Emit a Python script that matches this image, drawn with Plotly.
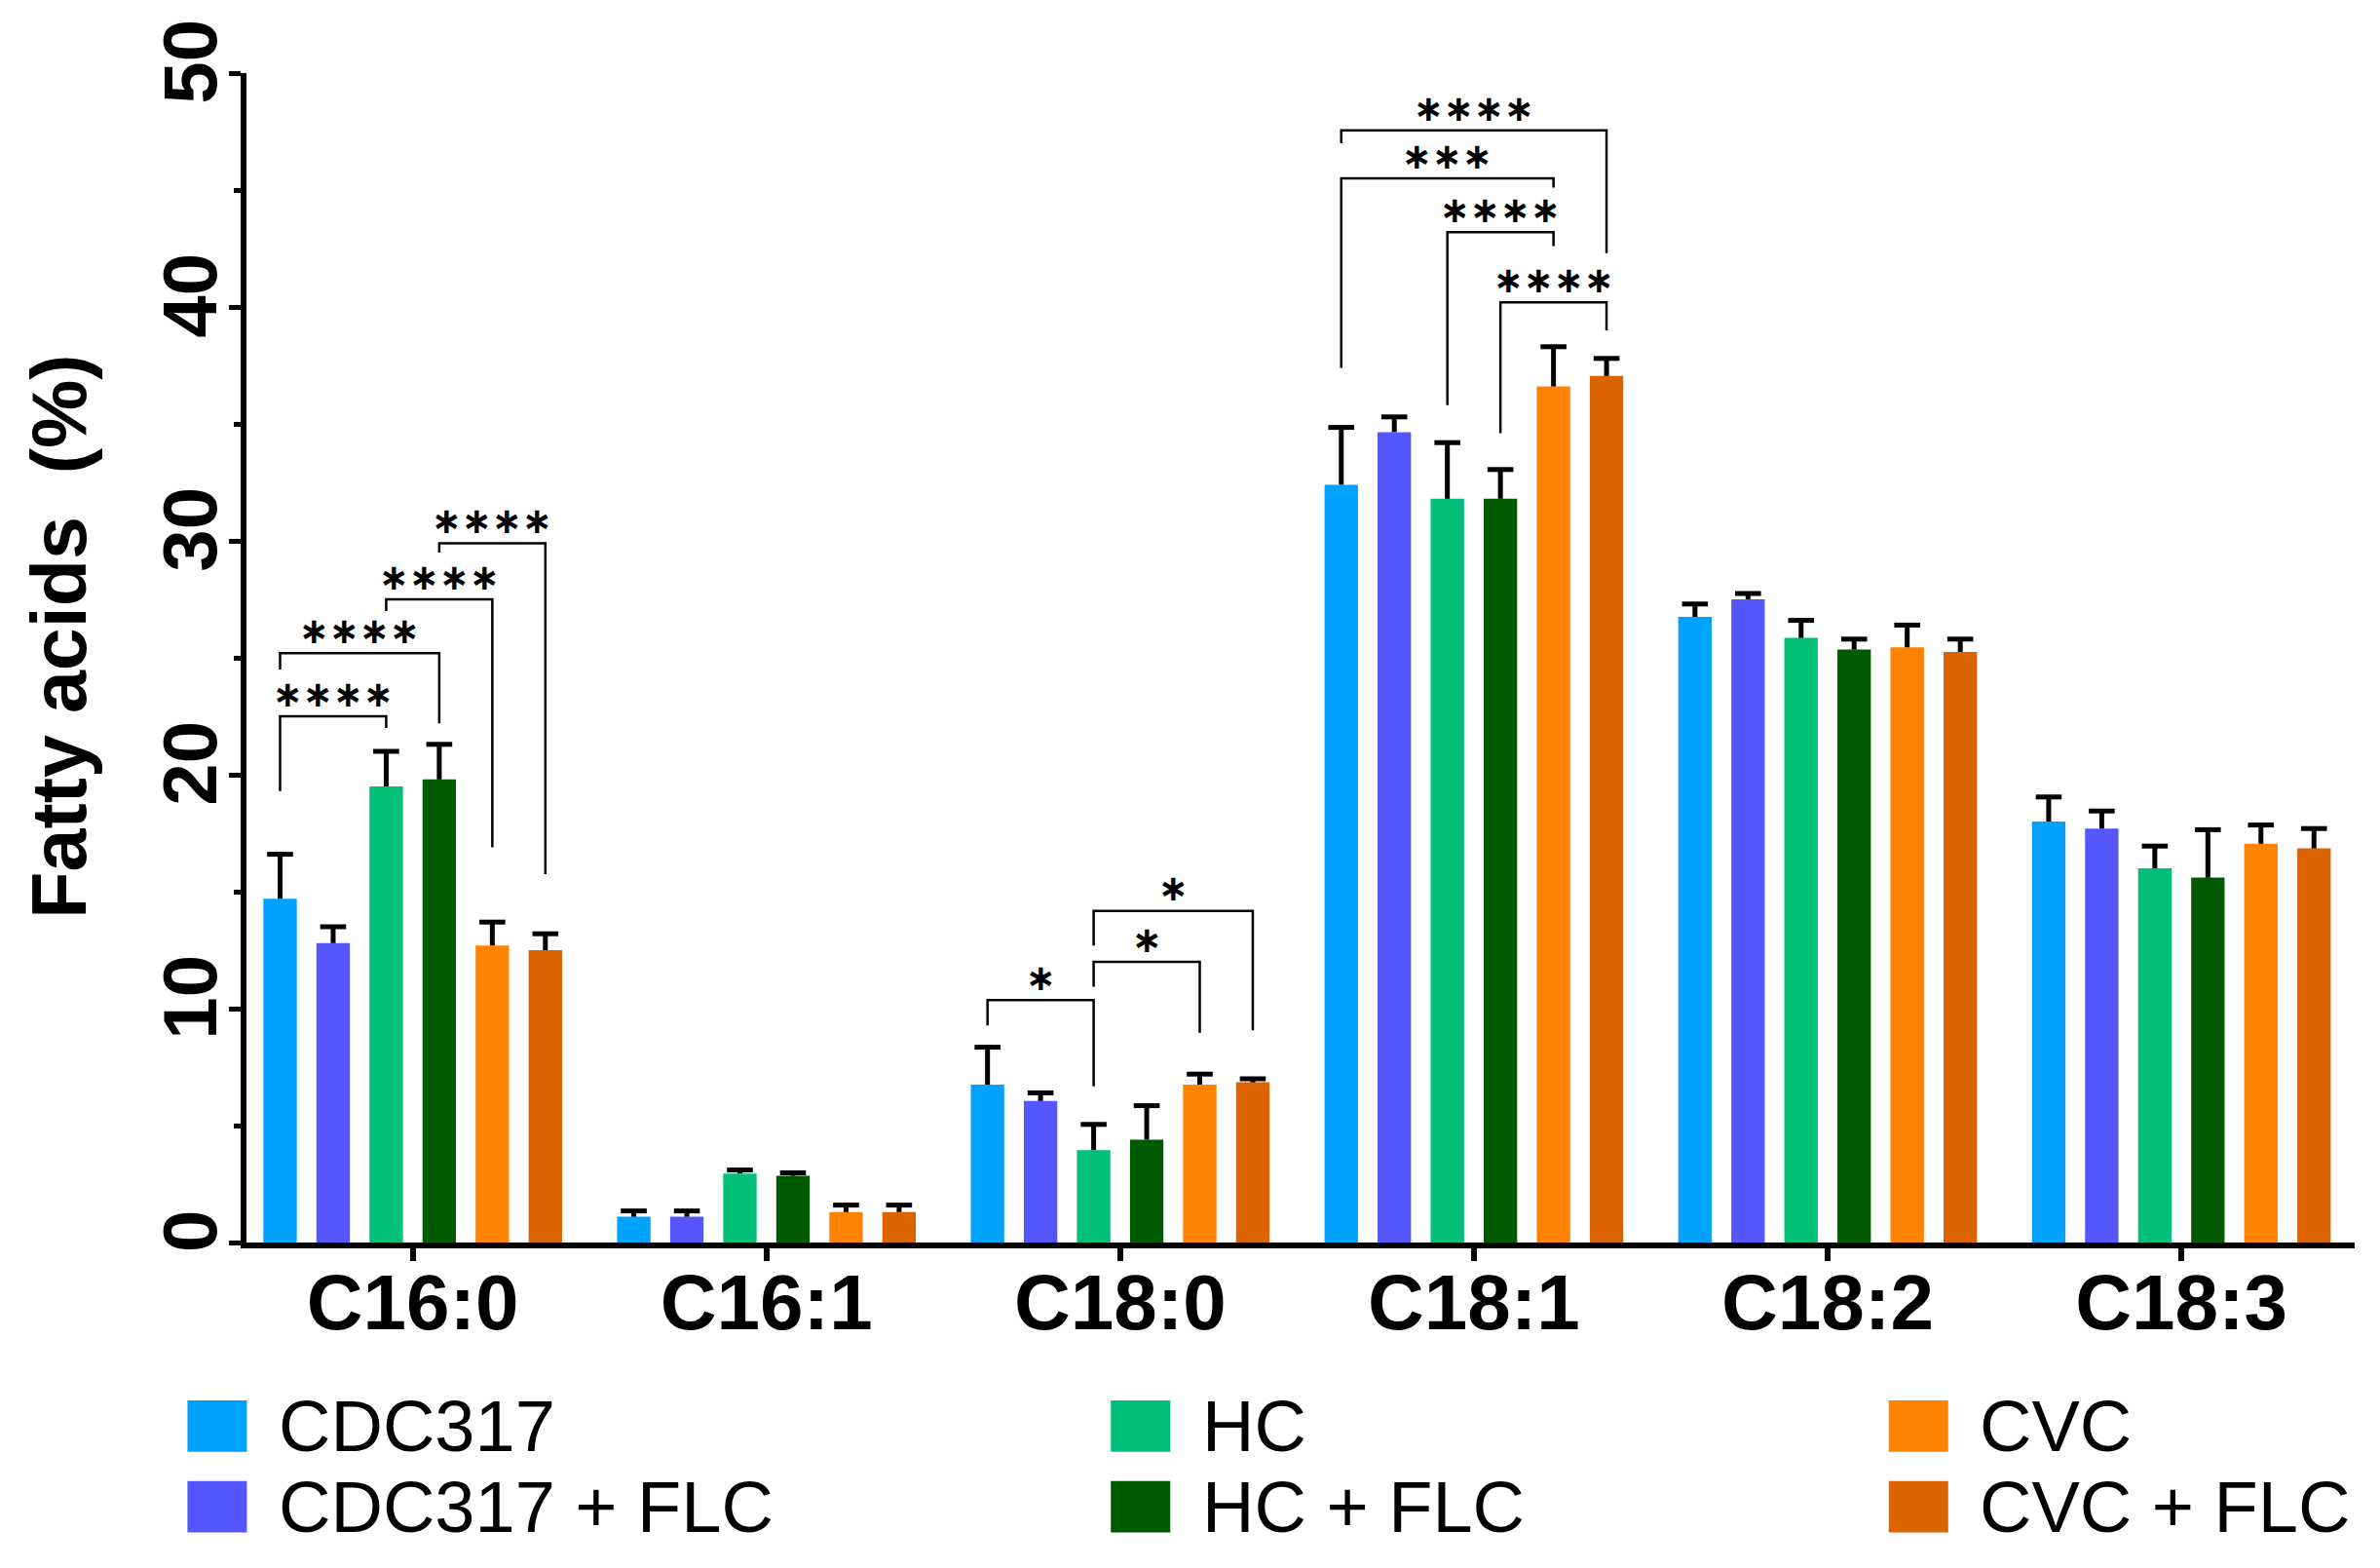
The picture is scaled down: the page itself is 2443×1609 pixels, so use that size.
import plotly.graph_objects as go

# fatty acid categories on the x axis
categories = ["C16:0", "C16:1", "C18:0", "C18:1", "C18:2", "C18:3"]

# series names and colours
series_names = ["CDC317", "CDC317 + FLC", "HC", "HC + FLC", "CVC", "CVC + FLC"]
series_colors = ["#00A2FF", "#5656FF", "#00BF78", "#005A00", "#FF8200", "#DC6400"]

# mean values (%) per series, one value per category
cdc317 = [14.7, 1.1, 6.75, 32.4, 26.75, 18.0]
cdc317_flc = [12.8, 1.1, 6.05, 34.65, 27.5, 17.7]
hc = [19.5, 2.95, 3.95, 31.8, 25.85, 16.0]
hc_flc = [19.8, 2.85, 4.4, 31.8, 25.35, 15.6]
cvc = [12.7, 1.3, 6.75, 36.6, 25.45, 17.05]
cvc_flc = [12.5, 1.3, 6.85, 37.05, 25.25, 16.85]

# upper error (SD) per series
cdc317_err = [1.9, 0.25, 1.6, 2.45, 0.55, 1.05]
cdc317_flc_err = [0.7, 0.25, 0.35, 0.65, 0.25, 0.75]
hc_err = [1.5, 0.15, 1.1, 2.4, 0.75, 0.95]
hc_flc_err = [1.5, 0.13, 1.45, 1.25, 0.45, 2.05]
cvc_err = [1.0, 0.3, 0.45, 1.7, 0.95, 0.8]
cvc_flc_err = [0.7, 0.3, 0.15, 0.75, 0.55, 0.85]

values = [cdc317, cdc317_flc, hc, hc_flc, cvc, cvc_flc]
errors = [cdc317_err, cdc317_flc_err, hc_err, hc_flc_err, cvc_err, cvc_flc_err]

# significance brackets: (category, bar a, bar b, bracket height, end of left leg, end of right leg, label)
brackets = [
    (0, 0, 2, 22.5, 19.3, 22.0, "****"),
    (0, 0, 3, 25.2, 24.5, 22.2, "****"),
    (0, 2, 4, 27.5, 27.0, 16.9, "****"),
    (0, 3, 5, 29.9, 29.5, 15.75, "****"),
    (2, 0, 2, 10.36, 9.28, 6.68, "*"),
    (2, 2, 4, 12.0, 10.94, 8.97, "*"),
    (2, 2, 5, 14.18, 12.7, 9.07, "*"),
    (3, 0, 5, 47.55, 47.0, 42.3, "****"),
    (3, 0, 4, 45.5, 37.4, 45.1, "***"),
    (3, 2, 4, 43.2, 35.8, 42.6, "****"),
    (3, 3, 5, 40.2, 34.6, 39.0, "****"),
]

FONT = "Liberation Sans, Arial, sans-serif"
STAR_FONT = "DejaVu Sans, sans-serif"
BARGAP = 0.1
BARGROUPGAP = 0.37
n_series = len(series_names)
slot = (1 - BARGAP) / n_series


def bar_x(cat, k):
    # centre of bar k inside group cat (same maths plotly uses for grouped bars)
    return cat - (1 - BARGAP) / 2 + (k + 0.5) * slot


fig = go.Figure()
x_pos = list(range(len(categories)))

for name, color, vals in zip(series_names, series_colors, values):
    fig.add_trace(go.Bar(
        x=x_pos, y=vals, name=name,
        marker=dict(color=color, line=dict(width=0)),
        showlegend=False,
    ))

# one-sided error bars (stem + top cap only, like the original)
for k, (vals, errs) in enumerate(zip(values, errors)):
    sx, sy = [], []
    cx, cy = [], []
    for cat, (v, e) in enumerate(zip(vals, errs)):
        xc = bar_x(cat, k)
        sx += [xc, xc, None]
        sy += [v, v + e, None]
        cx.append(xc)
        cy.append(v + e)
    fig.add_trace(go.Scatter(x=sx, y=sy, mode="lines",
                             line=dict(color="black", width=5),
                             hoverinfo="skip", showlegend=False))
    fig.add_trace(go.Scatter(x=cx, y=cy, mode="markers",
                             marker=dict(symbol="line-ew", size=19,
                                         line=dict(color="black", width=5)),
                             hoverinfo="skip", showlegend=False))

# significance brackets
for cat, a, b, h, left_end, right_end, label in brackets:
    xa = bar_x(cat, a)
    xb = bar_x(cat, b)
    fig.add_trace(go.Scatter(
        x=[xa, xa, xb, xb], y=[left_end, h, h, right_end],
        mode="lines", line=dict(color="black", width=2.5),
        hoverinfo="skip", showlegend=False,
    ))
    # asterisk operator glyph sits centred in its line box, so a compact font size works
    fig.add_annotation(
        x=(xa + xb) / 2, y=h + 0.95, text=label.replace("*", "\u2217"),
        showarrow=False, yanchor="middle", borderpad=0,
        font=dict(family=STAR_FONT, size=37, color="black", weight="bold"),
    )

# y axis title as annotation so it can sit where the original has it
fig.add_annotation(
    xref="paper", yref="paper", x=-0.089, y=0.518, text="Fatty acids  (%)",
    textangle=-90, showarrow=False, xanchor="center", yanchor="middle",
    font=dict(family=FONT, size=79, color="black", weight="bold"),
)

# legend drawn by hand: three columns, two rows, big square swatches
col_x = [-0.028, 0.410, 0.779]
row_y = [-0.157, -0.226]
sw_w = 0.0282
sw_h = 0.044
for k, (name, color) in enumerate(zip(series_names, series_colors)):
    col = k // 2
    row = k % 2
    x0 = col_x[col]
    yc = row_y[row]
    fig.add_shape(type="rect", xref="paper", yref="paper",
                  x0=x0, x1=x0 + sw_w, y0=yc - sw_h / 2, y1=yc + sw_h / 2,
                  fillcolor=color, line=dict(width=0))
    fig.add_annotation(xref="paper", yref="paper", x=x0 + sw_w + 0.014, y=yc,
                       text=name, showarrow=False, xanchor="left", yanchor="middle",
                       font=dict(family=FONT, size=74, color="black"))

fig.update_layout(
    width=2443, height=1609,
    margin=dict(l=245, r=34, t=61, b=342),
    paper_bgcolor="white", plot_bgcolor="white",
    barmode="group", bargap=BARGAP, bargroupgap=BARGROUPGAP,
    showlegend=False,
    font=dict(family=FONT, color="black"),
)
fig.update_xaxes(
    range=[-0.47, 5.49], tickvals=x_pos, ticktext=categories,
    showline=True, linewidth=6, linecolor="black",
    ticks="outside", ticklen=13, tickwidth=6, tickcolor="black",
    ticklabelstandoff=-26,
    tickfont=dict(family=FONT, size=80, color="black", weight="bold"),
    showgrid=False, zeroline=False,
)
fig.update_yaxes(
    range=[0, 50], dtick=10, tickangle=-90,
    showline=True, linewidth=6, linecolor="black",
    ticks="outside", ticklen=12, tickwidth=5, tickcolor="black",
    ticklabelstandoff=-18,
    minor=dict(dtick=5, ticks="outside", ticklen=7, tickwidth=5, tickcolor="black"),
    tickfont=dict(family=FONT, size=78, color="black", weight="bold"),
    showgrid=False, zeroline=False,
)

fig.write_html("out.html")
